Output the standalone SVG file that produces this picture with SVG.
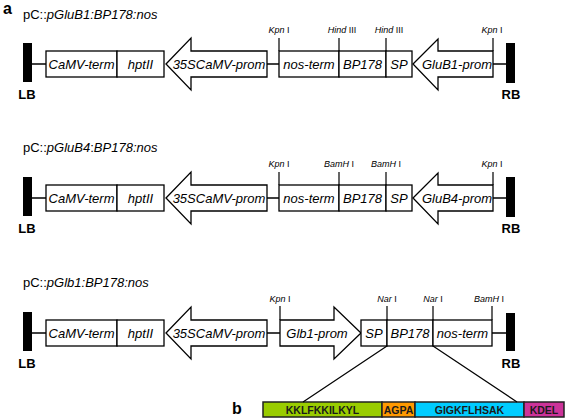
<svg xmlns="http://www.w3.org/2000/svg" width="567" height="419" viewBox="0 0 567 419">
<style>
.bx{fill:#fff;stroke:#000;stroke-width:1.3}
.ln{stroke:#000;stroke-width:1.5;fill:none}
.rs{stroke:#000;stroke-width:1.2}
.bar{fill:#000}
.t{font-family:"Liberation Sans",Arial,sans-serif;font-style:italic;font-size:13px;text-anchor:middle;fill:#000}
.ti{font-family:"Liberation Sans",Arial,sans-serif;font-size:13px;fill:#000}
.re{font-family:"Liberation Sans",Arial,sans-serif;font-size:9px;text-anchor:middle;fill:#000}
.lb{font-family:"Liberation Sans",Arial,sans-serif;font-weight:bold;font-size:13px;text-anchor:middle;fill:#000}
.pl{font-family:"Liberation Sans",Arial,sans-serif;font-weight:bold;font-size:16px;fill:#000}
.pp{font-family:"Liberation Sans",Arial,sans-serif;font-weight:bold;font-size:10.5px;text-anchor:middle;fill:#1a1a1a}
.sg{stroke:#222;stroke-width:1.5}
</style>

<text class="pl" x="3" y="14">a</text>
<text class="pl" x="232" y="414">b</text>

<!-- Row 1 -->
<g id="row1">
  <text class="ti" x="23" y="19">pC::<tspan font-style="italic">pGluB1:BP178:nos</tspan></text>
  <g id="r1-LB"><rect class="bar" x="23" y="43" width="9" height="39"/><text class="lb" x="27" y="99">LB</text></g>
  <g id="r1-camv"><rect class="bx" x="46" y="51" width="71" height="26"/><text class="t" x="81.5" y="69">CaMV-term</text></g>
  <g id="r1-hpt"><rect class="bx" x="117" y="51" width="47" height="26"/><text class="t" x="140.5" y="69">hptII</text></g>
  <g id="r1-35s"><polygon class="bx" points="166,64 191,38 191,51 267,51 267,77 191,77 191,90"/><text class="t" x="219" y="69">35SCaMV-prom</text></g>
  <g id="r1-nos"><rect class="bx" x="279" y="51" width="60" height="26"/><text class="t" x="309" y="69">nos-term</text></g>
  <g id="r1-bp"><rect class="bx" x="339" y="51" width="47" height="26"/><text class="t" x="362.5" y="69">BP178</text></g>
  <g id="r1-sp"><rect class="bx" x="386" y="51" width="26" height="26"/><text class="t" x="399" y="69">SP</text></g>
  <g id="r1-prom"><polygon class="bx" points="413,64 438,39 438,51 493,51 493,77 438,77 438,90"/><text class="t" x="457" y="69">GluB1-prom</text></g>
  <g id="r1-RB"><rect class="bar" x="506" y="43" width="9" height="40"/><text class="lb" x="511" y="99">RB</text></g>
  <text class="re" x="279" y="33"><tspan font-style="italic">Kpn</tspan> I</text>
  <text class="re" x="342" y="33"><tspan font-style="italic">Hind</tspan> III</text>
  <text class="re" x="389" y="33"><tspan font-style="italic">Hind</tspan> III</text>
  <text class="re" x="492" y="33"><tspan font-style="italic">Kpn</tspan> I</text>
</g>

<!-- Row 2 -->
<g id="row2">
  <text class="ti" x="23" y="152">pC::<tspan font-style="italic">pGluB4</tspan>:<tspan font-style="italic">BP178:nos</tspan></text>
  <g id="r2-LB"><rect class="bar" x="23" y="177" width="9" height="39"/><text class="lb" x="27" y="233">LB</text></g>
  <g id="r2-camv"><rect class="bx" x="46" y="185" width="71" height="26"/><text class="t" x="81.5" y="203">CaMV-term</text></g>
  <g id="r2-hpt"><rect class="bx" x="117" y="185" width="47" height="26"/><text class="t" x="140.5" y="203">hptII</text></g>
  <g id="r2-35s"><polygon class="bx" points="166,198 191,172 191,185 267,185 267,211 191,211 191,224"/><text class="t" x="219" y="203">35SCaMV-prom</text></g>
  <g id="r2-nos"><rect class="bx" x="279" y="185" width="60" height="26"/><text class="t" x="309" y="203">nos-term</text></g>
  <g id="r2-bp"><rect class="bx" x="339" y="185" width="47" height="26"/><text class="t" x="362.5" y="203">BP178</text></g>
  <g id="r2-sp"><rect class="bx" x="386" y="185" width="26" height="26"/><text class="t" x="399" y="203">SP</text></g>
  <g id="r2-prom"><polygon class="bx" points="413,198 438,173 438,185 493,185 493,211 438,211 438,224"/><text class="t" x="457" y="203">GluB4-prom</text></g>
  <g id="r2-RB"><rect class="bar" x="506" y="177" width="9" height="40"/><text class="lb" x="511" y="233">RB</text></g>
  <text class="re" x="279" y="167"><tspan font-style="italic">Kpn</tspan> I</text>
  <text class="re" x="339" y="167"><tspan font-style="italic">BamH</tspan> I</text>
  <text class="re" x="386" y="167"><tspan font-style="italic">BamH</tspan> I</text>
  <text class="re" x="492" y="167"><tspan font-style="italic">Kpn</tspan> I</text>
</g>

<!-- Row 3 -->
<g id="row3">
  <text class="ti" x="23" y="287">pC::<tspan font-style="italic">pGlb1:BP178:nos</tspan></text>
  <g id="r3-LB"><rect class="bar" x="23" y="312" width="9" height="39"/><text class="lb" x="27" y="368">LB</text></g>
  <g id="r3-camv"><rect class="bx" x="46" y="320" width="71" height="26"/><text class="t" x="81.5" y="338">CaMV-term</text></g>
  <g id="r3-hpt"><rect class="bx" x="117" y="320" width="47" height="26"/><text class="t" x="140.5" y="338">hptII</text></g>
  <g id="r3-35s"><polygon class="bx" points="166,333 191,307 191,320 267,320 267,346 191,346 191,359"/><text class="t" x="219" y="338">35SCaMV-prom</text></g>
  <g id="r3-prom"><polygon class="bx" points="280,320 334,320 334,307 361,333 334,359 334,346 280,346"/><text class="t" x="317" y="338">Glb1-prom</text></g>
  <g id="r3-sp"><rect class="bx" x="361" y="320" width="26" height="26"/><text class="t" x="374" y="338">SP</text></g>
  <g id="r3-bp"><rect class="bx" x="387" y="320" width="46" height="26"/><text class="t" x="410" y="338">BP178</text></g>
  <g id="r3-nos"><rect class="bx" x="433" y="320" width="59" height="26"/><text class="t" x="462.5" y="338">nos-term</text></g>
  <g id="r3-RB"><rect class="bar" x="506" y="313" width="9" height="38"/><text class="lb" x="511" y="368">RB</text></g>
  <text class="re" x="280" y="302"><tspan font-style="italic">Kpn</tspan> I</text>
  <text class="re" x="387" y="302"><tspan font-style="italic">Nar</tspan> I</text>
  <text class="re" x="433" y="302"><tspan font-style="italic">Nar</tspan> I</text>
  <text class="re" x="489" y="302"><tspan font-style="italic">BamH</tspan> I</text>
</g>

<!-- Peptide -->
<g id="peptide">
  <rect x="263" y="402" width="119" height="15" fill="#99cc00" class="sg"/>
  <rect x="382" y="402" width="33" height="15" fill="#ff9900" class="sg"/>
  <rect x="415" y="402" width="109" height="15" fill="#00ccff" class="sg"/>
  <rect x="524" y="402" width="40" height="15" fill="#cc3399" class="sg"/>
  <text class="pp" x="322.5" y="414">KKLFKKILKYL</text>
  <text class="pp" x="398.5" y="414">AGPA</text>
  <text class="pp" x="469.5" y="414">GIGKFLHSAK</text>
  <text class="pp" x="544" y="414">KDEL</text>
</g>

<!-- Connectors -->
<g id="connectors">
  <path class="ln" d="M32,64H46 M267,64H279 M493,64H506 M32,198H46 M267,198H279 M493,198H506 M32,333H46 M267,333H280 M492,333H506"/>
  <path class="rs" d="M279,38V51 M339,38V51 M386,38V51 M493,38V51 M279,172V185 M339,172V185 M386,172V185 M493,172V185 M280,306V320 M387,306V320 M433,306V320 M492,306V320"/>
  <path class="rs" d="M387,346L303,402 M433,346L517,402"/>
</g>
</svg>
